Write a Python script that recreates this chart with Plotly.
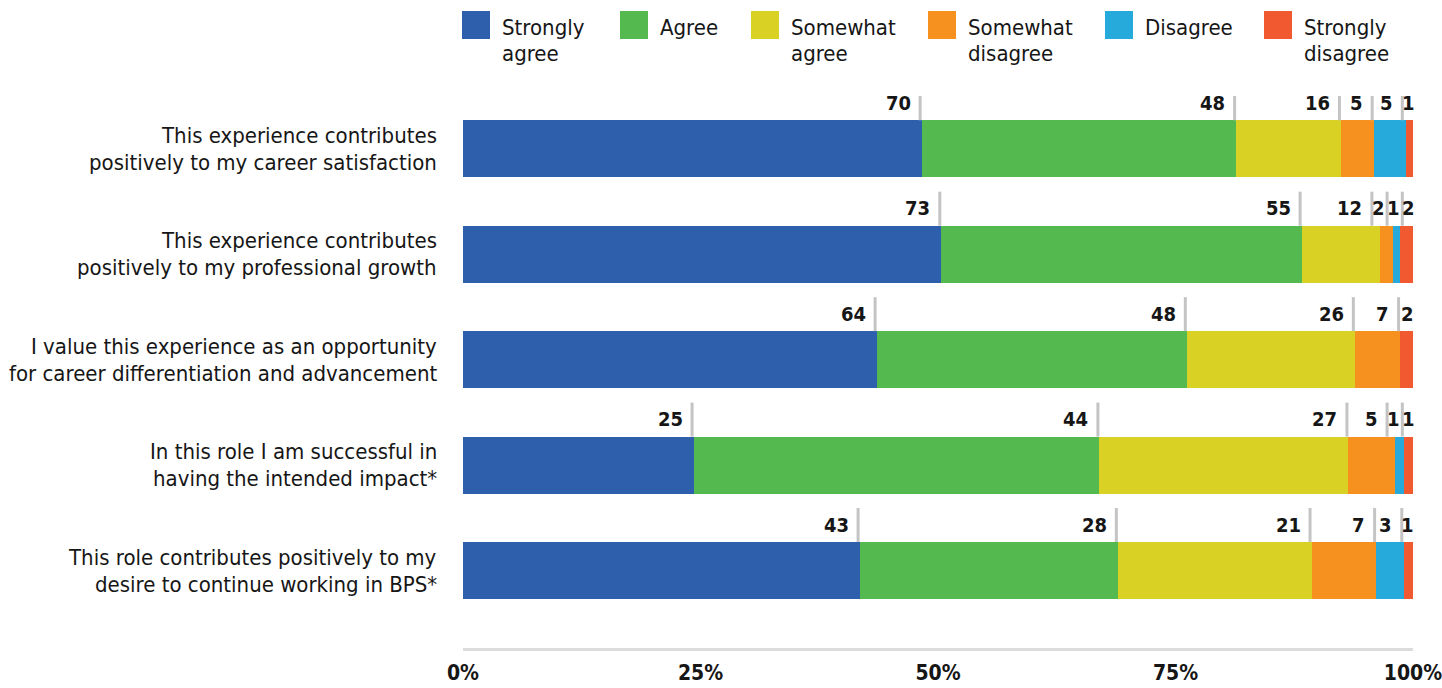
import plotly.graph_objects as go

# ---- data -----------------------------------------------------------------
statements = [
    "This experience contributes<br>positively to my career satisfaction",
    "This experience contributes<br>positively to my professional growth",
    "I value this experience as an opportunity<br>for career differentiation and advancement",
    "In this role I am successful in<br>having the intended impact*",
    "This role contributes positively to my<br>desire to continue working in BPS*",
]
responses = ["Strongly agree", "Agree", "Somewhat agree",
             "Somewhat disagree", "Disagree", "Strongly disagree"]

strongly_agree = [70, 73, 64, 25, 43]
agree = [48, 55, 48, 44, 28]
somewhat_agree = [16, 12, 26, 27, 21]
somewhat_disagree = [5, 2, 7, 5, 7]
disagree = [5, 1, 0, 1, 3]
strongly_disagree = [1, 2, 2, 1, 1]

x_tick_vals = [0, 25, 50, 75, 100]
x_tick_text = ["0%", "25%", "50%", "75%", "100%"]

colors = ["#2E5FAC", "#54B94F", "#D9D225", "#F6901E", "#25AADB", "#F15A31"]

# ---- layout constants -------------------------------------------------------
W, H = 1442, 688
ML, MR, MT, MB = 463, 29, 96, 40
PLOT_W = W - ML - MR
PLOT_H = H - MT - MB
PX_PER_PCT = PLOT_W / 100.0
Y_RANGE = [4.735, -0.5]
PX_PER_ROW = PLOT_H / (Y_RANGE[0] - Y_RANGE[1])
BAR_W = 0.54

FONT = "DejaVu Sans Condensed, DejaVu Sans, sans-serif"
TEXT_COLOR = "#161616"
LABEL_SIZE = 20
TEXT_SIZE = 22
DIGIT_W = 0.61 * LABEL_SIZE
TICK_W = 3.0
TICK_H = 34.0
GAP = 7.0
MAX_RIGHT = ML + PLOT_W + 3

series = [strongly_agree, agree, somewhat_agree,
          somewhat_disagree, disagree, strongly_disagree]
totals = [sum(s[i] for s in series) for i in range(len(statements))]
pcts = [[s[i] / totals[i] * 100 for i in range(len(statements))] for s in series]


def px_to_x(px):
    return (px - ML) / PX_PER_PCT


def px_to_xpaper(px):
    return (px - ML) / PLOT_W


def py_to_ypaper(py):
    return (H - MB - py) / PLOT_H


fig = go.Figure()
for name, vals, col in zip(responses, pcts, colors):
    fig.add_trace(go.Bar(
        y=statements, x=vals, name=name, orientation="h",
        marker=dict(color=col, line=dict(width=0)),
        width=BAR_W, showlegend=False, hoverinfo="skip",
    ))

shapes = []
annotations = []


def layout_row(row):
    """Place count labels and their tick marks so neighbours never collide."""
    cum = 0.0
    items = []
    for j in range(len(series)):
        c = series[j][row]
        cum += pcts[j][row]
        if c == 0:
            continue
        w = len(str(c)) * DIGIT_W
        last = j == len(series) - 1
        if last:
            items.append(dict(c=c, w=w, W=w, d=MAX_RIGHT - 1, last=True))
        else:
            items.append(dict(c=c, w=w, W=w + TICK_W,
                              d=ML + cum * PX_PER_PCT, last=False))

    def solve(cl):
        offs = []
        acc = 0.0
        for it in reversed(cl):
            offs.append(acc)
            acc += it["W"]
        offs = offs[::-1]
        R = sum(it["d"] + o for it, o in zip(cl, offs)) / len(cl)
        R = min(R, MAX_RIGHT)
        return R, offs, R - acc

    clusters = []
    for it in items:
        clusters.append([it])
        while len(clusters) > 1:
            Rp, _, _ = solve(clusters[-2])
            _, _, left = solve(clusters[-1])
            if Rp > left:
                last_cl = clusters.pop()
                clusters[-1].extend(last_cl)
            else:
                break
    placed = []
    for cl in clusters:
        R, offs, _ = solve(cl)
        for it, o in zip(cl, offs):
            it["right"] = R - o
            placed.append(it)

    prev_right = ML
    for it in placed:
        if it["last"]:
            label_right = it["right"]
        else:
            tick_left = it["right"] - TICK_W
            gap = min(GAP, max(0.0, tick_left - it["w"] - prev_right))
            label_right = tick_left - gap
            shapes.append(dict(
                type="rect", xref="x", yref="y",
                x0=px_to_x(tick_left), x1=px_to_x(it["right"]),
                y0=row - BAR_W / 2, y1=row - BAR_W / 2 - TICK_H / PX_PER_ROW,
                fillcolor="#C4C4C4", line=dict(width=0), layer="above",
            ))
        prev_right = it["right"]
        annotations.append(dict(
            x=px_to_xpaper(label_right), y=statements[row], xref="paper", yref="y",
            text=str(it["c"]), showarrow=False, xanchor="right", yanchor="middle",
            yshift=46, borderpad=0,
            font=dict(family=FONT, size=LABEL_SIZE, color=TEXT_COLOR, weight="bold"),
        ))


for r in range(len(statements)):
    layout_row(r)

# statement labels, two lines each
for st in statements:
    lines = st.split("<br>")
    for k, line in enumerate(lines):
        annotations.append(dict(
            x=0, y=st, xref="paper", yref="y", text=line, showarrow=False,
            xanchor="right", yanchor="middle", xshift=-25,
            yshift=13.5 - 27 * k, borderpad=0,
            font=dict(family=FONT, size=TEXT_SIZE, color=TEXT_COLOR),
        ))

# legend row across the top
legend_left_px = [462, 620, 751, 928, 1105, 1264]
SQ = 28
for name, col, lx in zip(responses, colors, legend_left_px):
    shapes.append(dict(
        type="rect", xref="paper", yref="paper",
        x0=px_to_xpaper(lx), x1=px_to_xpaper(lx + SQ),
        y0=py_to_ypaper(11), y1=py_to_ypaper(11 + SQ),
        fillcolor=col, line=dict(width=0),
    ))
    parts = name.split(" ", 1)
    for k, line in enumerate(parts):
        annotations.append(dict(
            x=px_to_xpaper(lx + SQ + 11), y=py_to_ypaper(27 + 26.5 * k),
            xref="paper", yref="paper", text=line, showarrow=False,
            xanchor="left", yanchor="middle", borderpad=0,
            font=dict(family=FONT, size=TEXT_SIZE, color=TEXT_COLOR),
        ))

fig.update_layout(
    width=W, height=H,
    margin=dict(l=ML, r=MR, t=MT, b=MB, autoexpand=False),
    barmode="stack", bargap=0,
    plot_bgcolor="white", paper_bgcolor="white",
    shapes=shapes, annotations=annotations,
    xaxis=dict(
        range=[0, 100], tickvals=x_tick_vals, ticktext=x_tick_text,
        showgrid=False, zeroline=False, showline=True,
        linecolor="#DCDCDC", linewidth=3, ticks="",
        tickfont=dict(family=FONT, size=21, color=TEXT_COLOR, weight="bold"),
        ticklabelstandoff=4, ticklabeloverflow="allow",
        automargin=False, fixedrange=True,
    ),
    yaxis=dict(
        type="category", categoryorder="array", categoryarray=statements,
        range=Y_RANGE, showticklabels=False, showgrid=False,
        zeroline=False, showline=False, ticks="", automargin=False,
        fixedrange=True,
    ),
)

fig.write_html("out.html")
